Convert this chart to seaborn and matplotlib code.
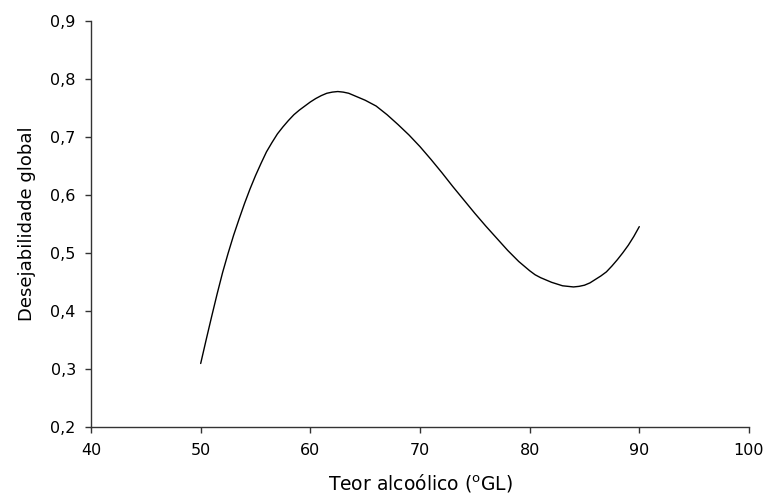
import matplotlib
matplotlib.use("Agg")
import matplotlib.pyplot as plt
import seaborn as sns
import pandas as pd
from matplotlib.ticker import FuncFormatter

# Teor alcoólico (°GL) and the global desirability at each level
teor = [50, 50.5, 51, 51.5, 52, 52.5, 53, 53.5, 54, 54.5,
        55, 55.5, 56, 56.5, 57, 57.5, 58, 58.5, 59, 59.5,
        60, 60.5, 61, 61.5, 62, 62.5, 63, 63.5, 64, 64.5,
        65, 65.5, 66, 67, 68, 69,
        70, 71, 72, 73, 74, 75, 76, 77, 78, 79,
        80, 80.5, 81, 81.5, 82, 82.5, 83, 83.5, 84, 84.5,
        85, 85.5, 86, 86.5, 87, 87.5, 88, 88.5, 89, 89.5, 90]
desejabilidade = [0.309, 0.350, 0.390, 0.429, 0.466, 0.499, 0.530, 0.558, 0.585, 0.610,
                  0.633, 0.654, 0.674, 0.690, 0.705, 0.717, 0.728, 0.738, 0.746, 0.753,
                  0.760, 0.766, 0.771, 0.775, 0.777, 0.778, 0.777, 0.775, 0.771, 0.767,
                  0.763, 0.758, 0.753, 0.738, 0.721, 0.703,
                  0.683, 0.661, 0.638, 0.614, 0.591, 0.568, 0.546, 0.525, 0.504, 0.485,
                  0.469, 0.462, 0.457, 0.453, 0.449, 0.446, 0.443, 0.442, 0.441, 0.442,
                  0.444, 0.448, 0.454, 0.460, 0.467, 0.477, 0.488, 0.500, 0.513, 0.528, 0.545]

x_ticks = [40, 50, 60, 70, 80, 90, 100]
y_ticks = [0.2, 0.3, 0.4, 0.5, 0.6, 0.7, 0.8, 0.9]

sns.set_style("ticks")
plt.rcParams["font.family"] = ["DejaVu Sans"]
plt.rcParams["mathtext.fontset"] = "dejavusans"
plt.rcParams["text.color"] = "black"
plt.rcParams["axes.labelcolor"] = "black"

df = pd.DataFrame({"teor": teor, "desejabilidade": desejabilidade})

fig = plt.figure(figsize=(7.65, 4.95), dpi=100)
ax = fig.add_axes([0.119, 0.138, 0.860, 0.820])

sns.lineplot(data=df, x="teor", y="desejabilidade", ax=ax,
             color="black", linewidth=1.0)

ax.set_xlim(40, 100)
ax.set_ylim(0.2, 0.9)
ax.set_xticks(x_ticks)
ax.set_yticks(y_ticks)
ax.yaxis.set_major_formatter(FuncFormatter(lambda v, _: f"{v:.1f}".replace(".", ",")))

for side in ("top", "right"):
    ax.spines[side].set_visible(False)
for side in ("left", "bottom"):
    ax.spines[side].set_color("#333333")
    ax.spines[side].set_linewidth(1.0)

ax.tick_params(axis="both", direction="out", length=4, width=1.0,
               color="#333333", labelsize=11.5, labelcolor="black")
ax.tick_params(axis="x", pad=7.5)
ax.tick_params(axis="y", pad=7)

ax.set_xlabel("Teor alcoólico ($^{\\mathrm{o}}$GL)", fontsize=13.5, labelpad=10)
ax.set_ylabel("Desejabilidade global", fontsize=13, labelpad=10)

fig.savefig("out.png", dpi=100, facecolor="white")
